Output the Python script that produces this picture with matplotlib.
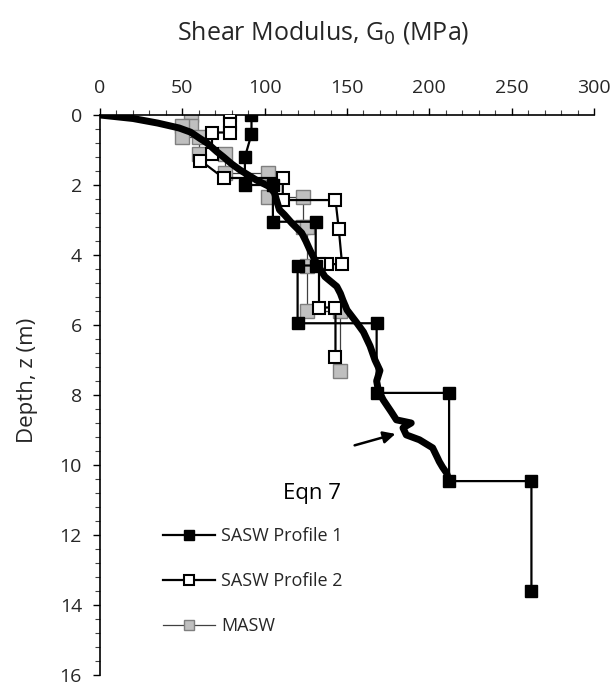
import numpy as np
import matplotlib.pyplot as plt
from matplotlib.ticker import MultipleLocator

plt.rcParams['font.family'] = ['Open Sans', 'DejaVu Sans']

# SASW Profile 1 (black squares)
g_sasw1 = [92, 92, 88, 88, 105, 105, 131, 131, 120, 120, 168, 168, 212, 212, 262, 262]
z_sasw1 = [0, 0.55, 1.2, 2.0, 2.0, 3.05, 3.05, 4.3, 4.3, 5.95, 5.95, 7.94, 7.94, 10.46, 10.46, 13.6]

# SASW Profile 2 (open squares)
g_sasw2 = [79, 79, 79, 68, 68, 61, 75, 111, 111, 143, 145, 147, 138, 133, 133, 143, 143]
z_sasw2 = [0, 0.25, 0.5, 0.5, 1.1, 1.3, 1.8, 1.8, 2.43, 2.43, 3.25, 4.26, 4.26, 4.26, 5.5, 5.5, 6.9]

# MASW (grey squares)
g_masw = [55, 55, 50, 50, 60, 60, 76, 76, 102, 102, 123, 123, 126, 126, 126, 146, 146]
z_masw = [0, 0.3, 0.3, 0.62, 0.62, 1.1, 1.1, 1.65, 1.65, 2.33, 2.33, 3.2, 3.2, 4.3, 5.6, 5.6, 7.3]

# Eqn 7 curve
g_eqn = [0, 20, 35, 48, 55, 61, 65, 71, 75, 80, 85, 95, 103, 106, 107, 109, 112, 116.5,
         122.5, 125, 127.5, 130.5, 133, 136.6, 143.8, 146, 147.5, 150, 156, 160, 164, 167,
         170, 168, 169, 172, 177, 180, 189, 184, 186, 194, 202, 205, 206, 208, 210.5, 212]
z_eqn = [0, 0.1, 0.23, 0.37, 0.49, 0.68, 0.8, 1.05, 1.2, 1.4, 1.57, 1.86, 2.05, 2.23, 2.4,
         2.71, 2.85, 3.09, 3.37, 3.6, 3.86, 4.14, 4.35, 4.62, 4.9, 5.1, 5.29, 5.57, 5.94, 6.2,
         6.6, 7.0, 7.3, 7.6, 7.86, 8.14, 8.49, 8.71, 8.8, 8.94, 9.14, 9.28, 9.51, 9.8, 9.9,
         10.06, 10.23, 10.45]

txt = '#262626'

fig = plt.figure(figsize=(6.14, 6.86), dpi=100)
ax = fig.add_axes([100/614, 1 - 675/686, 494/614, 560/686])

ax.plot(g_masw, z_masw, color='#404040', lw=0.9, marker='s', ms=9.5,
        mfc='#bfbfbf', mec='#7f7f7f', mew=1.0, label='MASW', zorder=2)
ax.plot(g_sasw2, z_sasw2, color='black', lw=1.6, marker='s', ms=8.5,
        mfc='white', mec='black', mew=1.5, label='SASW Profile 2', zorder=3)
ax.plot(g_eqn, z_eqn, color='black', lw=5, solid_capstyle='butt', zorder=4)
ax.plot(g_sasw1, z_sasw1, color='black', lw=1.6, marker='s', ms=9,
        mfc='black', mec='black', label='SASW Profile 1', zorder=5)

ax.annotate('', xy=(181, 9.09), xytext=(153, 9.46),
            arrowprops=dict(arrowstyle='-|>', color='black', lw=1.8, mutation_scale=18))
ax.text(129, 10.8, 'Eqn 7', fontsize=16, color='black', ha='center', va='center')

ax.set_xlim(0, 300)
ax.set_ylim(16, 0)
ax.xaxis.tick_top()
ax.xaxis.set_label_position('top')
ax.xaxis.set_major_locator(MultipleLocator(50))
ax.xaxis.set_minor_locator(MultipleLocator(10))
ax.yaxis.set_major_locator(MultipleLocator(2))
ax.yaxis.set_minor_locator(MultipleLocator(0.4))
ax.tick_params(axis='both', which='major', labelsize=14, colors='black',
               labelcolor=txt, length=5, width=1, pad=8)
ax.tick_params(axis='both', which='minor', length=3.5, width=0.8, colors='#404040')
ax.tick_params(axis='x', which='both', direction='out')
ax.tick_params(axis='y', which='both', direction='out')
for s in ['right', 'bottom']:
    ax.spines[s].set_visible(False)
for s in ['left', 'top']:
    ax.spines[s].set_linewidth(1.2)

fig.text(323/614, 1 - 33/686, 'Shear Modulus, G$_0$ (MPa)', fontsize=18, color=txt,
         ha='center', va='center')
fig.text(28/614, 1 - 380/686, 'Depth, z (m)', fontsize=16, color=txt,
         ha='center', va='center', rotation=90)

handles, labels = ax.get_legend_handles_labels()
order = [2, 1, 0]
ax.legend([handles[i] for i in order], [labels[i] for i in order],
          loc='upper left', bbox_to_anchor=(163/614, 1 - 527/686),
          bbox_transform=fig.transFigure, frameon=False, fontsize=13,
          borderaxespad=0, borderpad=0, handlelength=2.9, handletextpad=0.33,
          labelspacing=1.5, labelcolor=txt, markerscale=0.8)

fig.savefig('out.png', dpi=100)
